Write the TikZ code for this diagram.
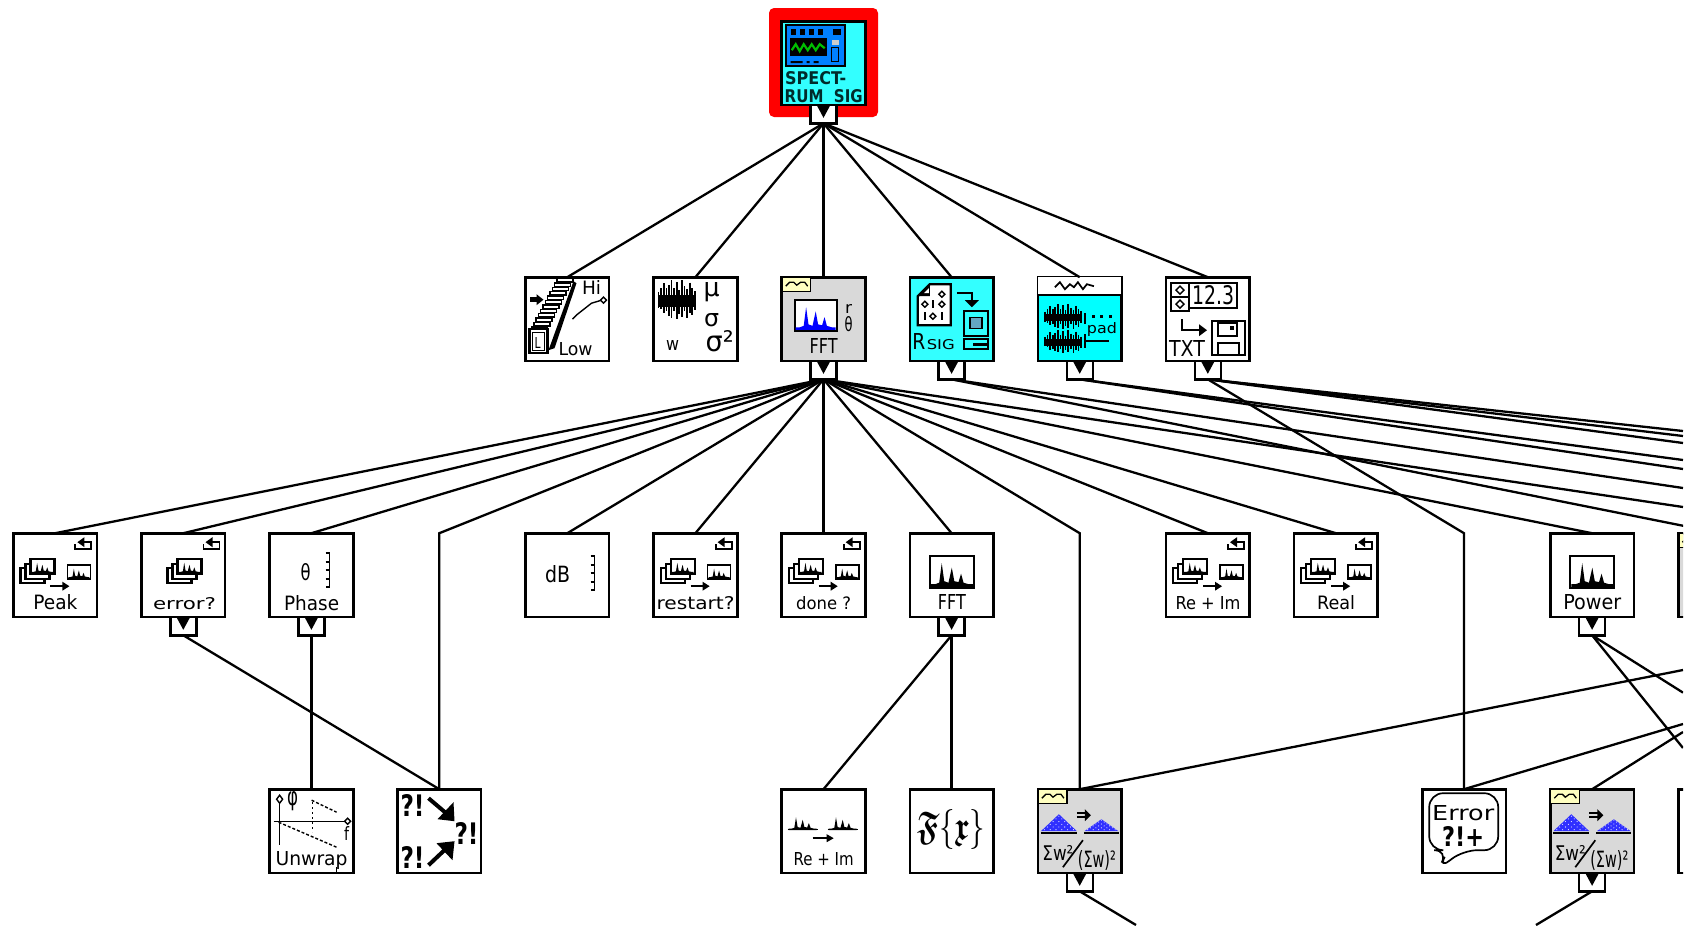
\documentclass[tikz,border=0pt]{standalone}
\usepackage{fontspec}
\usepackage{graphicx}
\usetikzlibrary{calc}
\setmainfont{DejaVu Sans}
\definecolor{cyA}{HTML}{33FFFF}
\definecolor{cyB}{HTML}{00FFFF}
\definecolor{grayV}{HTML}{D9D9D9}
\definecolor{yel}{HTML}{FFFFC0}
\definecolor{blueV}{HTML}{0000FF}
\definecolor{blueT}{HTML}{3030FF}
\definecolor{panel}{HTML}{0080FF}
\definecolor{dark}{HTML}{002B2B}
\newcounter{txc}
\newcommand{\tx}[5]{\stepcounter{txc}\node[txt,anchor=base] (t\thetxc) at (#1,#2) {\resizebox{#3pt}{#4pt}{#5}};}
\newcommand{\vi}[4]{\node[vibox,fill=#4] (#1) at (#2,#3) {};}
\newcommand{\ic}[1]{\begin{scope}[shift={(#1.north west)},shift={(-1,-1)}]}
\newcommand{\prt}[1]{\node[port,anchor=north] (#1P) at (#1.south) {};\fill[shift={(#1P.north)}] (-7,0)--(7,0)--(0,13)--cycle;}
\newcommand{\spec}[5]{\begin{scope}[shift={(#1,#2)},xscale=#3/10,yscale=#4/10]\fill[#5] (0,10)--(0,9)--(1,9)--(2,8.5)--(2.6,2)--(3.2,8)--(4.2,8.5)--(5,3.5)--(5.6,8)--(6.6,8.3)--(7.2,5.5)--(7.8,8.5)--(9,9)--(10,9)--(10,10)--cycle;\end{scope}}
\newcommand{\noiseb}[4]{\begin{scope}[shift={(#1,#2)},xscale=#3/10,yscale=#4/10]\fill (0,3.8) rectangle (10,6.8);\foreach \a/\b/\c in {0/3/7,0.7/2/7.5,1.4/0.8/8.5,2.1/2/8,2.8/1.2/9.2,3.5/0/9.6,4.2/2/8,4.9/0.5/10,5.6/2.5/8.6,6.3/0/9.5,7/1.5/8,7.7/2.2/9.8,8.4/0.6/8.4,9.1/2/9,9.8/2.8/7.6}{\draw[line width=1.7pt] (\a,\b)--(\a,\c);}\end{scope}}
\newcommand{\loopg}{\draw[thin2] (63,12)--(63,17)--(79,17)--(79,10)--(71,10);\fill (72,5)--(72,15)--(65,10)--cycle;}
\newcommand{\stackg}[2]{\begin{scope}[shift={(#1,#2)}]\draw[hv,fill=white] (-10,9) rectangle (14,24);\draw[hv,fill=white] (-5,5) rectangle (19,20);\draw[hv,fill=white] (0,0) rectangle (24,15);\spec{1}{1}{22}{13}{black}\end{scope}}
\newcommand{\smallg}{\draw[med] (55,33) rectangle (78,47);\spec{56}{34}{21}{12}{black}\draw[hv] (38,54)--(52,54);\fill (50,49.5)--(57,54)--(50,58.5)--cycle;}
\newcommand{\brk}[3]{\draw[med] (#1-4,#2)--(#1,#2)--(#1,#3)--(#1-4,#3);\foreach \q in {1,2,3}{\draw[med] (#1-4,{#2+(#3-#2)*\q/4})--(#1,{#2+(#3-#2)*\q/4});}}
\newcommand{\cornerg}{\draw[line width=1.3,fill=yel] (1.5,1.5) rectangle (30,15);\draw[line width=1.3] (5,10)--(9,6)--(13,6)--(16,9)--(20,6)--(24,6)--(27,10);}
\newcommand{\piled}[4]{\fill[blueT] (#1-#3/2,#2)--(#1,#2-#4)--(#1+#3/2,#2)--cycle;\foreach \r in {0,1,...,5}{\foreach \k in {0,...,\numexpr5-\r\relax}{\fill[white] ({#1+(\k-(5-\r)/2)*#3/6.2},{#2-1.5-\r*#4/6.3}) circle (0.55);}}}
\newcommand{\triag}{\cornerg
\piled{22}{43}{36}{17}\draw[med] (4,45)--(40,45);\piled{64.5}{43}{34}{12}\draw[med] (47,45)--(82,45);\draw[med] (40,25)--(50,25) (40,29)--(50,29);\fill (48,21)--(54,27)--(48,33)--cycle;
\tx{21}{72}{31}{15}{Σw²}\draw[med] (26,79)--(46,52);\tx{60}{79}{38}{17}{(Σw)²}}
\tikzset{
  vibox/.style={draw=black,line width=2.6pt,minimum size=83.6pt,inner sep=0pt,outer sep=0pt,rectangle},
  port/.style={draw=black,line width=2.4pt,fill=white,minimum width=26pt,minimum height=18.5pt,inner sep=0pt,outer sep=0pt,rectangle},
  wire/.style={draw=black,line width=2.3pt,line join=miter},
  txt/.style={inner sep=0pt,outer sep=0pt,text=black},
  med/.style={line width=1.7pt},
  hv/.style={line width=2.2pt},
  thin1/.style={line width=1.4pt},
  thin2/.style={line width=1.9pt},
  halo/.style={fill=red,rounded corners=5pt,draw=none,minimum size=109pt,inner sep=0pt,outer sep=0pt,rectangle}
}
\begin{document}
\begin{tikzpicture}[x=1pt,y=-1pt]
\useasboundingbox (0,0) rectangle (1688,927);
\fill[white] (0,0) rectangle (1688,927);
\begin{scope}
\clip (0,0) rectangle (1683,925);
% top
\node[halo] (top-halo) at (823.5,62.5) {};
\vi{spectrum}{823.5}{63}{cyA}
\ic{spectrum}
\draw[line width=2.4pt,fill=panel] (5,5) rectangle (64,46);
\fill[black] (9,18) rectangle (46,36);
\draw[green!75!black,line width=2.2pt] (11,30)--(15,24)--(19,31)--(23,24)--(27,30)--(31,24)--(35,30)--(39,24)--(44,28);
\foreach \q in {10,19,28,37}{\fill (\q,9) rectangle (\q+5,15);}
\fill (52,9) rectangle (60,15);
\fill[gray!40] (51,20) rectangle (58,25);
\draw[black,line width=1.3pt,fill=panel] (51,27) rectangle (58,41);
\fill (10,41) rectangle (22,43) (26,41) rectangle (29,43) (33,41) rectangle (38,43);
\node[txt,text=dark,anchor=base] (lblA) at (35,64) {\resizebox{61pt}{13pt}{\textbf{SPECT-}}};
\node[txt,text=dark,anchor=base] (lblB) at (43,82) {\resizebox{78pt}{13pt}{\textbf{RUM\ \ SIG}}};
\end{scope}
\prt{spectrum}
% row 2
\vi{low}{567.3}{319}{white}
\ic{low}
\foreach \q in {0,1,...,11}{\draw[thin1,fill=white] ({7+\q*2.3},{54-\q*4.4}) rectangle ++(16,-3.4);}
\fill (49,5)--(52,7)--(30,72)--(24,74)--cycle;
\fill (5,21) rectangle (12,26);\fill (12,18)--(19,23.5)--(12,29)--cycle;
\draw[hv,fill=white] (5,53) rectangle (23,77);
\draw[thin1] (8,56) rectangle (20,74);
\tx{13}{72}{6}{11}{L}
\tx{67}{18}{19}{14}{Hi}
\tx{51}{79}{34}{13}{Low}
\draw[thin1] (48,43)--(53,38)--(67,27)--(77,24);
\draw[thin1,fill=white] (76,24)--(79,21)--(82,24)--(79,27)--cycle;
\end{scope}
\vi{stats}{695.4}{319}{white}
\ic{stats}
\noiseb{6}{4}{37}{39}
\tx{59}{20}{16}{14}{μ}
\tx{59}{50}{15}{13}{σ}
\tx{20}{74}{13}{10}{w}
\tx{67}{75}{28}{21}{σ²}
\end{scope}
\vi{fft}{823.5}{319}{grayV}
\ic{fft}
\cornerg
\draw[line width=1.7pt,fill=white] (14,24) rectangle (56,55);
\spec{15}{25}{40}{29}{blueV}
\draw[med] (14,55)--(56,55);
\tx{68}{37}{7}{9}{r}
\tx{68}{55}{8}{15}{θ}
\tx{43}{77}{28}{15}{FFT}
\end{scope}
\prt{fft}
\vi{rsig}{951.6}{319}{cyA}
\ic{rsig}
\draw[hv,fill=white] (9,20)--(21,8)--(42,8)--(42,49)--(9,49)--cycle;
\fill[black] (9,20)--(21,8)--(21,20)--cycle;
\fill[white] (15,17)--(20,12)--(20,17)--cycle;
\foreach \p/\q in {33/18,16/28,33/28,24/40}{\draw[thin1] (\p,\q-3)--(\p+3,\q)--(\p,\q+3)--(\p-3,\q)--cycle;}
\draw[thin1] (24,24)--(24,32) (16,36)--(16,44) (33,36)--(33,44);
\draw[hv] (48,17)--(63,17)--(63,25);
\fill (56,24)--(70,24)--(63,31)--cycle;
\draw[hv,fill=cyA] (55,35) rectangle (79,60);
\draw[thin1,fill=gray!50!cyan] (61,41) rectangle (73,52);
\draw[hv,fill=cyA] (55,63) rectangle (79,73);
\fill (64,67) rectangle (78,70);
\tx{10}{73}{13}{16}{R}
\tx{32}{73}{28}{10}{SIG}
\end{scope}
\prt{rsig}
\vi{noise}{1079.7}{319}{cyB}
\ic{noise}
\fill[white] (1.2,1.2) rectangle (83.8,18);
\draw[hv] (0,19)--(85,19);
\draw[med] (18,11)--(23,6)--(28,13)--(33,8)--(37,11)--(41,6)--(46,13)--(50,8)--(57,10);
\noiseb{8}{28}{37}{25}
\noiseb{8}{54}{37}{23}
\foreach \q in {55,63,72}{\fill (\q,39) rectangle (\q+3,42);}
\draw[thin1] (48,37)--(48,48);
\tx{65}{57}{30}{11}{pad}
\draw[thin1] (48,58)--(48,72);\draw[med] (48,65)--(72,65);
\end{scope}
\prt{noise}
\vi{txt}{1207.8}{319}{white}
\ic{txt}
\draw[med] (6,7) rectangle (24,35) (6,21)--(24,21) (24,7) rectangle (72,32);
\draw[thin1] (15,10)--(19,14)--(15,18)--(11,14)--cycle (15,24)--(19,28)--(15,32)--(11,28)--cycle;
\tx{48}{28}{42}{19}{12.3}
\draw[med] (17,43)--(17,54)--(36,54);\fill (34,48)--(42,54)--(34,60)--cycle;
\draw[med] (47,45) rectangle (80,79);
\draw[med] (53,47) rectangle (72,60);\fill (65,50) rectangle (69,54);
\draw[med] (53,67) rectangle (74,79);
\tx{22}{80}{36}{16}{TXT}
\end{scope}
\prt{txt}
% row 3
\vi{peak}{55.2}{575}{white}
\ic{peak}
\loopg\stackg{18}{27}\smallg
\tx{43}{77}{44}{15}{Peak}
\end{scope}
\vi{errq}{183.3}{575}{white}
\ic{errq}
\loopg\stackg{37}{27}
\tx{44}{77}{63}{12}{error?}
\end{scope}
\prt{errq}
\vi{phase}{311.4}{575}{white}
\ic{phase}
\tx{37}{48}{10}{17}{θ}
\brk{61}{21}{55}
\tx{43}{78}{55}{15}{Phase}
\end{scope}
\prt{phase}
\vi{db}{567.3}{575}{white}
\ic{db}
\tx{33}{50}{25}{17}{dB}
\brk{70}{24}{58}
\end{scope}
\vi{restart}{695.4}{575}{white}
\ic{restart}
\loopg\stackg{18}{27}\smallg
\tx{43}{77}{78}{13}{restart?}
\end{scope}
\vi{done}{823.5}{575}{white}
\ic{done}
\loopg\stackg{18}{27}\smallg
\tx{43}{77}{55}{13}{done ?}
\end{scope}
\vi{fftb}{951.6}{575}{white}
\ic{fftb}
\draw[hv] (21,24) rectangle (65,56);\spec{22}{25}{42}{30}{black}
\tx{43}{77}{28}{15}{FFT}
\end{scope}
\prt{fftb}
\vi{reim}{1207.8}{575}{white}
\ic{reim}
\loopg\stackg{18}{27}\smallg
\tx{43}{77}{65}{13}{Re + Im}
\end{scope}
\vi{realv}{1335.9}{575}{white}
\ic{realv}
\loopg\stackg{18}{27}\smallg
\tx{43}{77}{38}{14}{Real}
\end{scope}
\vi{power}{1592.1}{575}{white}
\ic{power}
\draw[hv] (21,24) rectangle (65,56);\spec{22}{25}{42}{30}{black}
\tx{43}{77}{58}{15}{Power}
\end{scope}
\prt{power}
\vi{edgeA}{1720.2}{575}{grayV}
\ic{edgeA}\cornerg\end{scope}
% row 4
\vi{unwrap}{311.4}{831}{white}
\ic{unwrap}
\tx{24}{17}{11}{14}{φ}
\draw[thin1] (11,12)--(11,57) (5,33)--(78,33);
\draw[thin1,fill=white] (11,7)--(14,11)--(11,15)--(8,11)--cycle (79,30)--(82,33)--(79,36)--(76,33)--cycle;
\draw[thin1,dash pattern=on 3pt off 2pt] (10,34)--(68,59) (43,12)--(68,24);
\draw[thin1,dash pattern=on 2pt off 3pt] (44,14)--(44,44);
\tx{78}{52}{5}{14}{f}
\tx{43}{77}{72}{14}{Unwrap}
\draw[thin1] (68,79)--(68,85);
\end{scope}
\vi{merge}{439.3}{831}{white}
\ic{merge}
\tx{16}{28}{24}{22}{\textbf{?!}}
\tx{70}{56}{24}{22}{\textbf{?!}}
\tx{16}{80}{24}{22}{\textbf{?!}}
\draw[line width=4pt] (32,10)--(52,27);\fill (41,31)--(58,33)--(57,14)--cycle;
\draw[line width=4pt] (32,77)--(50,60);\fill (40,55)--(58,53)--(56,72)--cycle;
\end{scope}
\vi{reimb}{823.5}{831}{white}
\ic{reimb}
\spec{8}{26}{28}{16}{black}\spec{48}{26}{28}{16}{black}
\draw[thin1] (7,41)--(37,41) (47,41)--(77,41);
\draw[med] (32,50)--(48,50);\fill (46,46)--(53,50)--(46,54)--cycle;
\tx{43}{77}{60}{13}{Re + Im}
\end{scope}
\vi{fx}{951.6}{831}{white}
\ic{fx}
\node[txt] (fxlbl) at (42,41) {\resizebox{68pt}{30pt}{\usefont{U}{euf}{b}{n}F\{x\}}};
\end{scope}
\vi{specA}{1079.7}{831}{grayV}
\ic{specA}\triag\end{scope}
\prt{specA}
\vi{errplus}{1464}{831}{white}
\ic{errplus}
\draw[med,rounded corners=14pt] (8,34)--(8,5)--(77,5)--(77,62)--(42,62)--(17,81)--(27,62)--(8,62)--cycle;
\tx{42}{32}{62}{15}{Error}
\tx{42}{58}{42}{20}{\textbf{?!+}}
\end{scope}
\vi{specB}{1592.1}{831}{grayV}
\ic{specB}\triag\end{scope}
\prt{specB}
\vi{edgeB}{1720.2}{831}{white}
% free ends at the picture's edges
\coordinate (fTa) at (1683,431);
\coordinate (fTb) at (1683,436);
\coordinate (fTc) at (1683,443);
\coordinate (fNa) at (1683,460);
\coordinate (fNb) at (1683,469);
\coordinate (fRa) at (1683,488);
\coordinate (fFa) at (1683,507);
\coordinate (fSa) at (1683,670);
\coordinate (fEa) at (1683,724);
\coordinate (fBa) at (1683,732);
\coordinate (fPa) at (1683,692.6);
\coordinate (fPb) at (1683,748);
\coordinate (fDa) at (1136,925);
\coordinate (fDb) at (1536,925);
% connectors
\foreach \t in {low,stats,fft,rsig,noise,txt}{\draw[wire] (spectrumP.south) -- (\t.north);}
\foreach \t in {peak,errq,phase,db,restart,done,fftb,reim,realv,power}{\draw[wire] (fftP.south) -- (\t.north);}
\draw[wire] (fftP.south) -- (fFa);
\draw[wire] (fftP.south) -- ($(merge.north)+(0,-256)$) -- (merge.north);
\draw[wire] (fftP.south) -- ($(specA.north)+(0,-256)$) -- (specA.north);
\draw[wire] (errqP.south) -- (merge.north);
\draw[wire] (phaseP.south) -- (unwrap.north);
\draw[wire] (fftbP.south) -- (reimb.north);
\draw[wire] (fftbP.south) -- (fx.north);
\draw[wire] (txtP.south) -- ($(errplus.north)+(0,-256)$) -- (errplus.north);
\draw[wire] (txtP.south) -- (fTa);
\draw[wire] (txtP.south) -- (fTb);
\draw[wire] (txtP.south) -- (fTc);
\draw[wire] (noiseP.south) -- (fNa);
\draw[wire] (noiseP.south) -- (fNb);
\draw[wire] (rsigP.south) -- (fRa);
\draw[wire] (rsigP.south) -- (edgeA.north);
\draw[wire] (specA.north) -- (fSa);
\draw[wire] (errplus.north) -- (fEa);
\draw[wire] (specB.north) -- (fBa);
\draw[wire] (powerP.south) -- (fPa);
\draw[wire] (powerP.south) -- (fPb);
\draw[wire] (specAP.south) -- (fDa);
\draw[wire] (specBP.south) -- (fDb);
\end{scope}
\end{tikzpicture}
\end{document}
